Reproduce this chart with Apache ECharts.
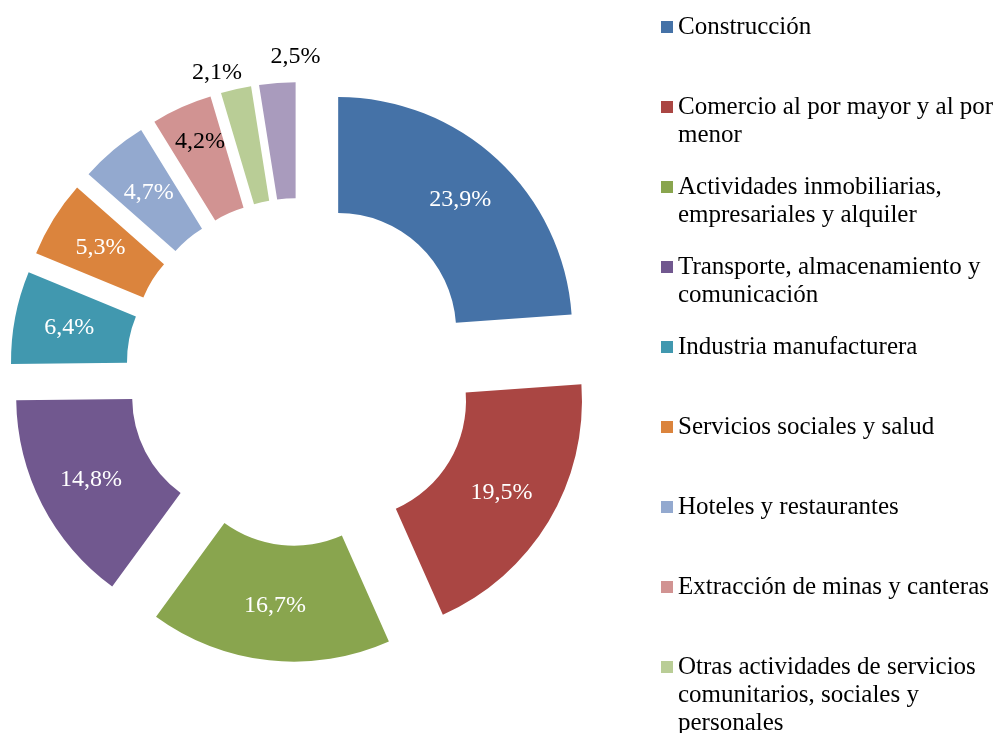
<!DOCTYPE html>
<html>
<head>
<meta charset="utf-8">
<script src="https://cdn.jsdelivr.net/npm/echarts@6/dist/echarts.min.js"></script>
<style>
  html, body { margin: 0; padding: 0; background: #fff; }
  #chart { width: 1004px; height: 733px; }
</style>
</head>
<body>
<div id="chart"></div>
<script>
// datos
const categories = [
  "Construcción",
  "Comercio al por mayor y al por menor",
  "Actividades inmobiliarias, empresariales y alquiler",
  "Transporte, almacenamiento y comunicación",
  "Industria manufacturera",
  "Servicios sociales y salud",
  "Hoteles y restaurantes",
  "Extracción de minas y canteras",
  "Otras actividades de servicios comunitarios, sociales y personales",
  "Otros"
];
// texto de leyenda con saltos de linea como en el original
const legendTexts = [
  "Construcción",
  "Comercio al por mayor y al por\nmenor",
  "Actividades inmobiliarias,\nempresariales y alquiler",
  "Transporte, almacenamiento y\ncomunicación",
  "Industria manufacturera",
  "Servicios sociales y salud",
  "Hoteles y restaurantes",
  "Extracción de minas y canteras",
  "Otras actividades de servicios\ncomunitarios, sociales y\npersonales",
  "Otros"
];
const values = [23.9, 19.5, 16.7, 14.8, 6.4, 5.3, 4.7, 4.2, 2.1, 2.5];

const colors = ["#4572A7", "#AA4643", "#89A54E", "#71588F", "#4198AF",
                "#DB843D", "#93A9CF", "#D19392", "#B9CD96", "#A99BBD"];

const FONT = "'Liberation Serif', 'Times New Roman', serif";
const LINE_H = 28;

// etiquetas especiales: color oscuro y desplazamiento (h = px horizontales, up = px hacia arriba)
const labelFix = {
  7: { color: "#000", h: -4, up: 16 },
  8: { color: "#000", h: -31, up: 70 },
  9: { color: "#000", h: 14, up: 81 }
};

const fmt = v => v.toFixed(1).replace(".", ",") + "%";

const pieData = categories.map((name, i) => {
  const fix = labelFix[i];
  const label = { color: "#fff" };
  if (fix) {
    label.color = fix.color;
    label.formatter = "{v|" + fmt(values[i]) + "}\n{s| }";
    label.rich = {
      v: {
        color: fix.color, fontFamily: FONT, fontSize: 24,
        padding: [0, fix.h < 0 ? -2 * fix.h : 0, 0, fix.h > 0 ? 2 * fix.h : 0]
      },
      s: { height: 2 * fix.up, fontSize: 1 }
    };
  }
  return {
    name: name,
    value: values[i],
    selected: true,
    itemStyle: { color: colors[i] },
    label: label
  };
});

// una leyenda por elemento para respetar el espaciado fijo
const legends = categories.map((name, i) => {
  const lines = legendTexts[i].split("\n");
  const n = lines.length;
  const center = 22 + 80 * i;
  // lineas vacias arriba para que el icono quede junto a la primera linea
  const txt = new Array(n - 1).fill("").concat(lines).join("\n");
  return {
    orient: "vertical",
    left: 656,
    top: center - (2 * n - 1) * LINE_H / 2,
    data: [name],
    icon: "rect",
    itemWidth: 12,
    itemHeight: 12,
    itemGap: 0,
    formatter: () => txt,
    textStyle: {
      fontFamily: FONT,
      fontSize: 25,
      color: "#000",
      lineHeight: LINE_H
    }
  };
});

const chart = echarts.init(document.getElementById("chart"));
chart.setOption({
  animation: false,
  backgroundColor: "#fff",
  legend: legends,
  series: [
    {
      type: "pie",
      center: [300, 372],
      radius: [118, 234],
      startAngle: 90,
      clockwise: true,
      selectedMode: "multiple",
      selectedOffset: 56,
      avoidLabelOverlap: false,
      labelLayout: { hideOverlap: false },
      select: { itemStyle: { borderWidth: 0 } },
      emphasis: { scale: false },
      label: {
        show: true,
        position: "inside",
        fontFamily: FONT,
        fontSize: 24,
        formatter: p => fmt(p.value)
      },
      labelLine: { show: false },
      data: pieData
    }
  ]
});
</script>
</body>
</html>
